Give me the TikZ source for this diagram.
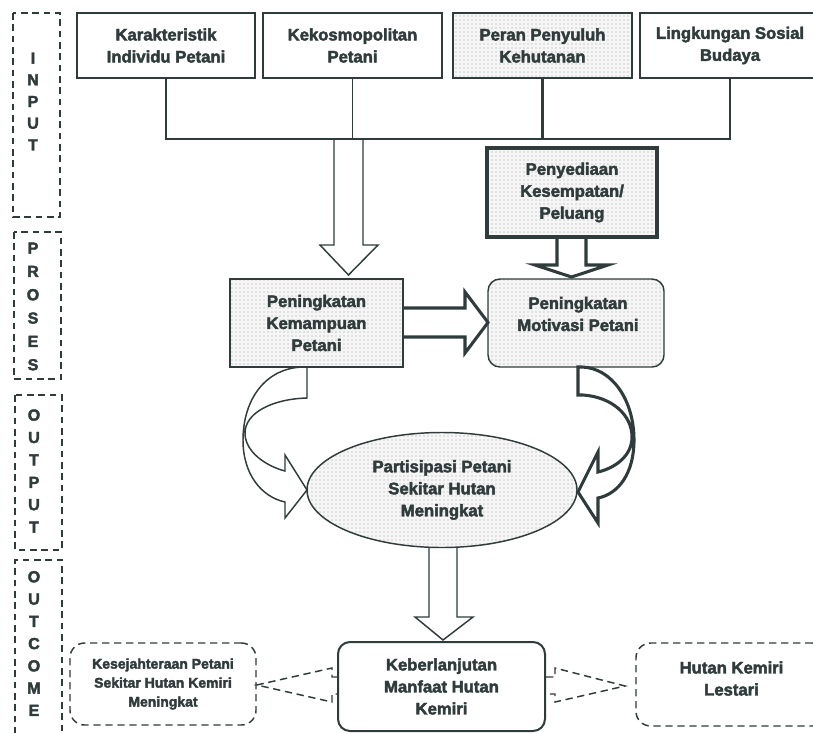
\documentclass[tikz,border=0pt]{standalone}
\usepackage{fontspec}
\setmainfont{Liberation Sans}[BoldFont={Liberation Sans Bold}, BoldFeatures={FakeBold=2.6}]
\usetikzlibrary{shapes.geometric,patterns}
\definecolor{ink}{HTML}{303B3B}
\begin{document}
\begin{tikzpicture}[x=0.75pt,y=-0.75pt,
  every node/.style={text=ink, font=\fontsize{12.5}{16.5}\selectfont\bfseries, align=center, inner sep=0pt},
  wh/.style 2 args={minimum width=#1*0.75pt, minimum height=#2*0.75pt},
  lin/.style={draw=ink, line width=1.1pt, line join=miter},
  thk/.style={draw=ink, line width=2.3pt, line join=miter},
  box/.style={draw=ink, line width=1.3pt, rectangle},
  thickbox/.style={draw=ink, line width=2.3pt, rectangle},
  dotfill/.style={preaction={fill=gray!7}, pattern=dots, pattern color=gray!80},
  side/.style={draw=ink, line width=1pt, dash pattern=on 5pt off 3.5pt},
  sidetext/.style={font=\fontsize{12}{#1}\selectfont\bfseries},
  dashbox/.style={draw=ink, line width=1.1pt, dash pattern=on 5.5pt off 3.5pt, rounded corners=11pt},
  dasharrow/.style={draw=ink, line width=1.1pt, dash pattern=on 5.5pt off 3.5pt}
]
\useasboundingbox (0,0) rectangle (813,732);

% side stage boxes
\draw[side] (13,13) rectangle (60,217);
\node[sidetext=16.3pt] (tin) at (33,101.5) {I\\N\\P\\U\\T};
\draw[side] (14,232) rectangle (61,379);
\node[sidetext=17.5pt] (tpr) at (33,306.5) {P\\R\\O\\S\\E\\S};
\draw[side] (15,395) rectangle (62,550);
\node[sidetext=16.8pt] (tou) at (34,471) {O\\U\\T\\P\\U\\T};
\draw[side] (15,745) -- (15,560) -- (62,560) -- (62,745);
\node[sidetext=16.7pt] (toc) at (34,643.5) {O\\U\\T\\C\\O\\M\\E};

% top input boxes
\node[box, wh={178}{65}] (b1) at (166,45.5) {Karakteristik\\Individu Petani};
\node[box, wh={179}{65}] (b2) at (352.5,45.5) {Kekosmopolitan\\Petani};
\node[box, dotfill, wh={179}{65}] (b3) at (542.5,45.5) {Peran Penyuluh\\Kehutanan};
\node[box, wh={180}{65}] (b4) at (730,45.5) {Lingkungan Sosial\\Budaya};

\coordinate (bus) at (0,139);
\draw[lin] (b1.south) |- (b4.south |- bus) -- (b4.south);
\draw[lin] (b2.south) -- (b2.south |- bus);
\draw[thk] (b3.south) -- (b3.south |- bus);

% process boxes
\node[thickbox, dotfill, wh={170}{89}] (pen) at (572,192.5) {Penyediaan\\Kesempatan/\\Peluang};
\node[box, line width=1.1pt, dotfill, wh={173}{88}] (kem) at (316.5,323) {Peningkatan\\Kemampuan\\Petani};
\node[box, line width=1.1pt, dotfill, rounded corners=9pt, wh={176}{88}] (mot) at (576,323) {};
\node (motT) at (578,314) {Peningkatan\\Motivasi Petani};

% block arrows
\draw[lin] (334,139) -- (334,245) -- (320,245) -- (348.5,275) -- (378,245) -- (363,245) -- (363,139);
\draw[thk] (557,237) -- (557,265) -- (535,265) -- (571.5,277) -- (608,265) -- (586,265) -- (586,237);
\draw[thk] (403,308) -- (465,308) -- (465,292) -- (488,322.5) -- (465,353) -- (465,337) -- (403,337);
\draw[lin] (429,540) -- (429,617) -- (415,617) -- (443,640) -- (473,617) -- (457,617) -- (457,540);

% curved arrows
\draw[lin] (307,367) -- (307,398) .. controls (272,399) and (245,413) .. (245,433)
  .. controls (245,452) and (266,466) .. (285,471) -- (285,455) -- (307,490) -- (285,518) -- (285,502)
  .. controls (262,497) and (243,475) .. (243,440) .. controls (243,400) and (265,368) .. (303,367) -- cycle;
\draw[thk] (578,367) -- (578,395) -- (583,395) .. controls (612,397) and (632,415) .. (632,437)
  .. controls (632,456) and (615,468) .. (598,472) -- (598,452) -- (578,492) -- (598,523) -- (598,498)
  .. controls (618,494) and (634,474) .. (634,440) .. controls (634,400) and (612,368) .. (582,367) -- cycle;

% output
\node[ellipse, draw=ink, line width=1.1pt, dotfill, wh={270}{115}] (par) at (442,490) {Partisipasi Petani\\Sekitar Hutan\\Meningkat};

% outcome
\node[box, line width=1.5pt, rounded corners=9pt, wh={207}{89}] (keb) at (441.5,686.5) {Keberlanjutan\\Manfaat Hutan\\Kemiri};
\node[dashbox, wh={186}{82}, font=\fontsize{10.5}{14.25}\selectfont\bfseries] (kes) at (163,684) {Kesejahteraan Petani\\Sekitar Hutan Kemiri\\Meningkat};
\node[dashbox, wh={191}{83}] (hut) at (731.5,684.5) {};
\node (hutT) at (731.5,678.5) {Hutan Kemiri\\Lestari};

\draw[dasharrow] (keb.west |- 0,677) -- (332,677) -- (332,668) -- (kes.east |- 0,685) -- (332,702) -- (332,694) -- (keb.west |- 0,694);
\draw[dasharrow] (keb.east |- 0,677) -- (555,677) -- (555,668) -- (625,686) -- (555,702) -- (555,694) -- (keb.east |- 0,694);
\end{tikzpicture}
\end{document}
